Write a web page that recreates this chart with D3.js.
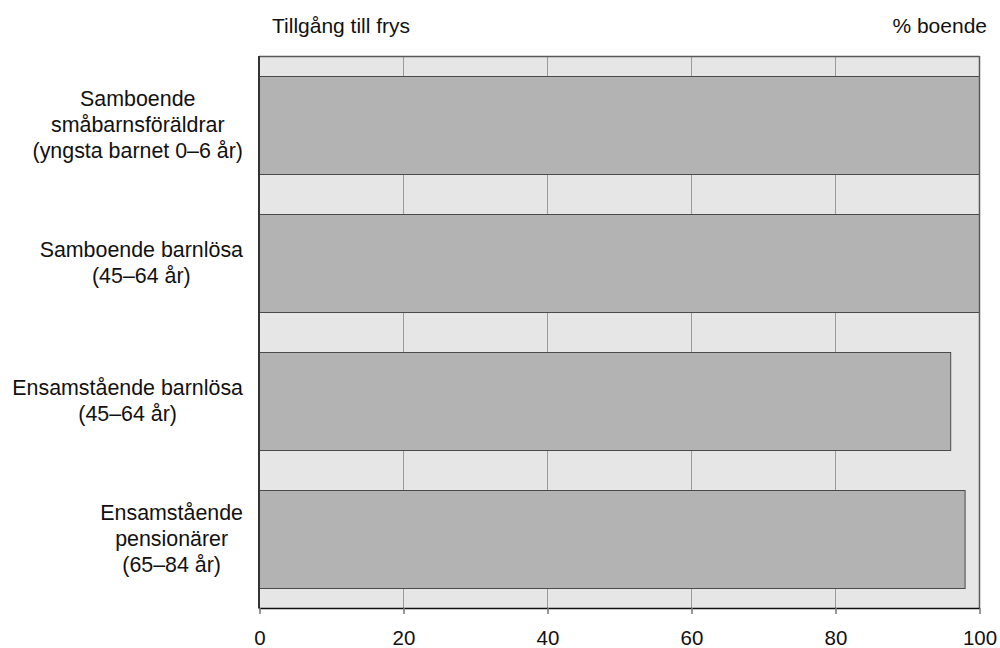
<!DOCTYPE html>
<html>
<head>
<meta charset="utf-8">
<script src="https://cdn.jsdelivr.net/npm/d3@7"></script>
<style>
  html, body { margin: 0; padding: 0; background: #fff; }
  svg { display: block; font-family: "Liberation Sans", Arial, Helvetica, sans-serif; }
</style>
</head>
<body>
<svg id="chart" width="1000" height="648"></svg>
<script>
// Share of households with access to a freezer, by household type
const categories = [
  "Samboende småbarnsföräldrar (yngsta barnet 0–6 år)",
  "Samboende barnlösa (45–64 år)",
  "Ensamstående barnlösa (45–64 år)",
  "Ensamstående pensionärer (65–84 år)"
];
const categoryLines = [
  ["Samboende", "småbarnsföräldrar", "(yngsta barnet 0–6 år)"],
  ["Samboende barnlösa", "(45–64 år)"],
  ["Ensamstående barnlösa", "(45–64 år)"],
  ["Ensamstående", "pensionärer", "(65–84 år)"]
];
const values = [100, 100, 96, 98];
const xTicks = [0, 20, 40, 60, 80, 100];
const titleText = "Tillgång till frys";
const unitText = "% boende";

const svg = d3.select("#chart");
const plotLeft = 259, plotRight = 979, plotTop = 56, plotBottom = 608;
const labelFont = 21.4, tickFont = 20.5, headFont = 21;

const x = d3.scaleLinear().domain([0, 100]).range([plotLeft, plotRight]);
const y = d3.scaleBand().domain(categories).range([plotTop, plotBottom])
  .paddingInner(40 / 138).paddingOuter(20 / 138);

// plot background
svg.append("rect")
  .attr("x", plotLeft).attr("y", plotTop)
  .attr("width", plotRight - plotLeft).attr("height", plotBottom - plotTop)
  .attr("fill", "#e6e6e6");

// vertical gridlines
svg.append("g").selectAll("line")
  .data(xTicks.filter(t => t > 0 && t < 100))
  .join("line")
  .attr("x1", d => x(d) + 0.5).attr("x2", d => x(d) + 0.5)
  .attr("y1", plotTop).attr("y2", plotBottom)
  .attr("stroke", "#9a9a9a").attr("stroke-width", 1);

// bars
svg.append("g").selectAll("rect")
  .data(values)
  .join("rect")
  .attr("x", x(0) + 0.5)
  .attr("y", (d, i) => y(categories[i]) + 0.5)
  .attr("width", d => x(d) - x(0))
  .attr("height", y.bandwidth())
  .attr("fill", "#b3b3b3")
  .attr("stroke", "#4a4a4a")
  .attr("stroke-width", 1);

// frame: top and right edges
svg.append("line")
  .attr("x1", plotLeft).attr("x2", plotRight + 0.5)
  .attr("y1", plotTop + 0.5).attr("y2", plotTop + 0.5)
  .attr("stroke", "#5a5a5a").attr("stroke-width", 1.5);
svg.append("line")
  .attr("x1", plotRight + 0.5).attr("x2", plotRight + 0.5)
  .attr("y1", plotTop).attr("y2", plotBottom)
  .attr("stroke", "#5a5a5a").attr("stroke-width", 1.5);
// left axis line
svg.append("line")
  .attr("x1", plotLeft).attr("x2", plotLeft)
  .attr("y1", plotTop).attr("y2", plotBottom + 0.5)
  .attr("stroke", "#333").attr("stroke-width", 2);

// bottom axis
const xAxis = d3.axisBottom(x)
  .tickValues(xTicks)
  .tickSize(6)
  .tickPadding(16.5)
  .tickFormat(d3.format("d"));
const gx = svg.append("g")
  .attr("transform", `translate(0.5,${plotBottom})`)
  .call(xAxis);
gx.select(".domain").attr("stroke", "#111").attr("stroke-width", 1.5)
  .attr("d", `M${plotLeft - 0.5},0.5H${plotRight + 0.5}`);
gx.selectAll(".tick line").attr("stroke", "#777").attr("stroke-width", 1.5);
gx.selectAll(".tick text")
  .attr("font-size", tickFont)
  .attr("font-family", "'Liberation Sans', Arial, sans-serif")
  .attr("fill", "#111");

// category labels: centered block, right-aligned to the axis
const lineH = 26;
const labelRight = 243;
const labels = svg.append("g");
categoryLines.forEach((lines, i) => {
  const cy = y(categories[i]) + y.bandwidth() / 2;
  const t = labels.append("text")
    .attr("font-size", labelFont)
    .attr("fill", "#111")
    .attr("text-anchor", "middle");
  const spans = lines.map((ln, j) => t.append("tspan")
    .attr("y", cy + (j - (lines.length - 1) / 2) * lineH + 6.5)
    .text(ln));
  const maxW = d3.max(spans, s => s.node().getComputedTextLength());
  spans.forEach(s => s.attr("x", labelRight - maxW / 2));
});

// header texts
svg.append("text")
  .attr("x", 272).attr("y", 33)
  .attr("font-size", headFont).attr("fill", "#111")
  .text(titleText);
svg.append("text")
  .attr("x", 987).attr("y", 33)
  .attr("text-anchor", "end")
  .attr("font-size", headFont).attr("fill", "#111")
  .text(unitText);
</script>
</body>
</html>
